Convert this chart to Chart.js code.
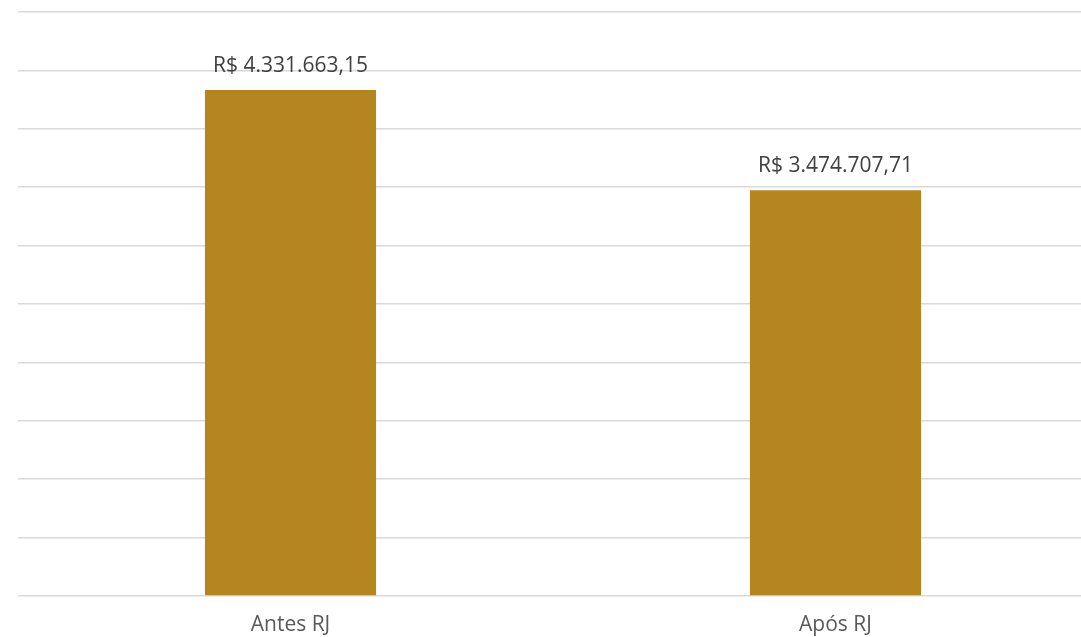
<!DOCTYPE html>
<html>
<head>
<meta charset="utf-8">
<script src="https://cdn.jsdelivr.net/npm/chart.js@4"></script>
<style>
  html, body { margin: 0; padding: 0; background: #fff; overflow: hidden; }
  #wrap { width: 1110px; height: 637px; }
</style>
</head>
<body>
<div id="wrap"><canvas id="grafico" width="1110" height="637"></canvas></div>
<script>
const categorias = ['Antes RJ', 'Após RJ'];
const valores = [4331663.15, 3474707.71];
const rotulos = ['R$ 4.331.663,15', 'R$ 3.474.707,71'];

// escreve o valor acima de cada barra
const rotuloBarras = {
    id: 'rotuloBarras',
    afterDatasetsDraw(chart) {
        const c = chart.ctx;
        const meta = chart.getDatasetMeta(0);
        c.save();
        c.font = '21px "Open Sans"';
        c.fillStyle = '#404040';
        c.textAlign = 'center';
        c.textBaseline = 'alphabetic';
        meta.data.forEach((bar, i) => {
            c.fillText(rotulos[i], bar.x, bar.y - 18);
        });
        c.restore();
    }
};

const ctx = document.getElementById('grafico');
new Chart(ctx, {
    type: 'bar',
    data: {
        labels: categorias,
        datasets: [{
            data: valores,
            backgroundColor: '#B5851F',
            barPercentage: 0.314,
            categoryPercentage: 1
        }]
    },
    options: {
        responsive: false,
        animation: false,
        devicePixelRatio: 1,
        layout: { padding: { left: 18, right: 2, top: 12, bottom: 0 } },
        plugins: {
            legend: { display: false },
            tooltip: { enabled: false }
        },
        scales: {
            y: {
                min: 0,
                max: 5000000,
                ticks: { display: false, stepSize: 500000 },
                grid: { color: '#d9d9d9', lineWidth: 1.5, drawTicks: false },
                border: { display: false },
                afterFit(s) { s.width = 0; }
            },
            x: {
                grid: { display: false, drawTicks: false },
                border: { display: false },
                ticks: {
                    color: '#595959',
                    font: { family: '"Open Sans"', size: 21 },
                    padding: 16
                },
                afterFit(s) { s.height = 41; }
            }
        }
    },
    plugins: [rotuloBarras]
});
</script>
</body>
</html>
